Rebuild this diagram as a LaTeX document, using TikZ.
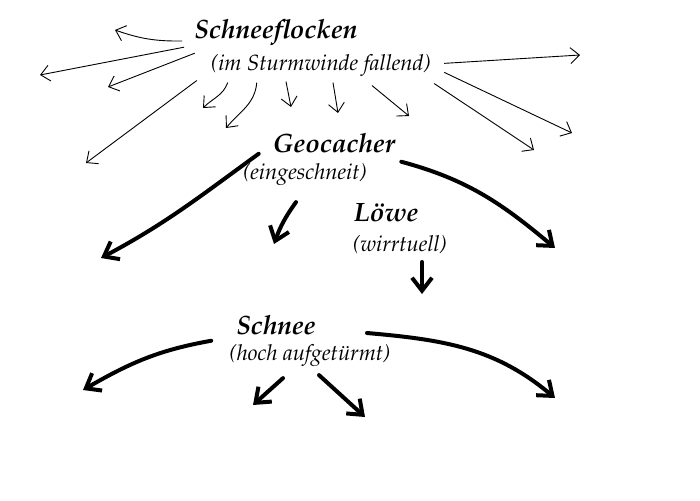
\documentclass[tikz,border=0pt]{standalone}
\usepackage[T1]{fontenc}
\usepackage{mathpazo}
\usepackage{tikz}
\usetikzlibrary{
  arrows.meta,
  positioning
}

\tikzset{
  headline/.style={font=\fontsize{26.5}{30}\selectfont\bfseries\itshape, inner sep=1pt},
  subline/.style={font=\fontsize{22}{26}\selectfont\itshape, inner sep=1pt},
  flakearrow/.style={-{Straight Barb[length=9pt,width=16pt]}, line width=0.9pt},
  snowarrow/.style={-{Straight Barb[length=13pt,width=20pt]}, line width=4pt, line cap=round}
}

\begin{document}
\begin{tikzpicture}[x=1pt, y=-1pt]
\useasboundingbox (0,0) rectangle (700,500);

\node[headline] (flocken) at (276,33) {Schneeflocken};
\node[subline,below=6pt of flocken,xshift=45pt] (sturm) {(im Sturmwinde fallend)};
\node[headline] (geo) at (334,143) {Geocacher};
\node[subline,below=9pt of geo,xshift=-29pt] (schnei) {(eingeschneit)};
\node[headline] (loewe) at (386,213) {Löwe};
\node[subline,below=11pt of loewe,xshift=14pt] (wirr) {(wirrtuell)};
\node[headline] (schnee) at (276,325) {Schnee};
\node[subline,below=8pt of schnee,xshift=34pt] (hoch) {(hoch aufgetürmt)};

% free ends
\coordinate (fa) at (115,30);
\coordinate (fb) at (40,75);
\coordinate (fc) at (108,87);
\coordinate (fd) at (86,163);
\coordinate (fe) at (203,108);
\coordinate (ff) at (226,128);
\coordinate (fg) at (291,107);
\coordinate (fh) at (338,113);
\coordinate (fi) at (409,116);
\coordinate (fj) at (580,55);
\coordinate (fk) at (572,133);
\coordinate (fl) at (534,150);
\coordinate (ga) at (101,258);
\coordinate (gb) at (274,244);
\coordinate (gc) at (555,248);
\coordinate (la) at (422,294);
\coordinate (sa) at (83,390);
\coordinate (sb) at (253,405);
\coordinate (sc) at (365,417);
\coordinate (sd) at (555,398);

% flakes in the storm
\draw[flakearrow] ([shift={(-11pt,-8pt)}]flocken.west) to[bend left=10] (fa);
\draw[flakearrow] ([xshift=-9pt]flocken.south west) -- (fb);
\draw[flakearrow] ([xshift=-15pt]sturm.north west) -- (fc);
\draw[flakearrow] ([shift={(-13pt,-3pt)}]sturm.south west) -- (fd);
\draw[flakearrow] ([shift={(18pt,-5pt)}]sturm.south west) to[out=-110,in=45] (fe);
\draw[flakearrow] ([shift={(47pt,-5pt)}]sturm.south west) to[out=-95,in=50] (ff);
\draw[flakearrow] ([shift={(-35pt,-4pt)}]sturm.south) -- (fg);
\draw[flakearrow] ([shift={(12pt,-5pt)}]sturm.south) -- (fh);
\draw[flakearrow] ([shift={(51pt,-8pt)}]sturm.south) -- (fi);
\draw[flakearrow] ([shift={(12pt,2pt)}]sturm.east) -- (fj);
\draw[flakearrow] ([shift={(12pt,-7pt)}]sturm.east) -- (fk);
\draw[flakearrow] ([shift={(2pt,-6pt)}]sturm.south east) -- (fl);

% geocacher, loewe, schnee
\draw[snowarrow] ([xshift=-13pt]geo.south west) to[out=216,in=28] (ga);
\draw[snowarrow] ([shift={(-9pt,-15pt)}]schnei.south) to[bend right=8] (gb);
\draw[snowarrow] ([shift={(5pt,-8pt)}]geo.south east) to[out=-15,in=140] (gc);
\draw[snowarrow] ([shift={(22pt,-7pt)}]wirr.south) -- (la);
\draw[snowarrow] ([shift={(-17pt,3pt)}]hoch.north west) to[out=190,in=30] (sa);
\draw[snowarrow] ([shift={(-27pt,-10pt)}]hoch.south) -- (sb);
\draw[snowarrow] ([shift={(9pt,-7pt)}]hoch.south) -- (sc);
\draw[snowarrow] ([shift={(50pt,-8pt)}]schnee.east) to[out=-5,in=140] (sd);
\end{tikzpicture}
\end{document}
